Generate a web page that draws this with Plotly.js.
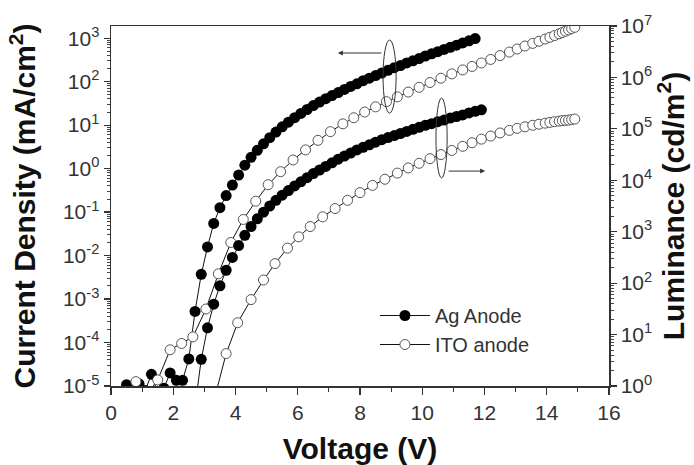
<!DOCTYPE html>
<html>
<head>
<meta charset="utf-8">
<script src="https://cdn.plot.ly/plotly-3.0.1.min.js"></script>
<style>html,body{margin:0;padding:0;background:#fff;}#chart{width:694px;height:465px;}</style>
</head>
<body>
<div id="chart"></div>
<script>
// ---- data ----
// Ag anode: current density (mA/cm^2) vs voltage (V)
const agJV = [0.1,0.3,0.5,0.7,0.9,1.1,1.3,1.5,1.7,1.9,2.1,2.3,2.5,2.7,2.9,3.1,3.3,3.5,3.7,3.9,4.1,4.3,4.5,4.7,4.9,5.1,5.3,5.5,5.7,5.9,6.1,6.3,6.5,6.7,6.9,7.1,7.3,7.5,7.7,7.9,8.1,8.3,8.5,8.7,8.9,9.1,9.3,9.5,9.7,9.9,10.1,10.3,10.5,10.7,10.9,11.1,11.3,11.5,11.7];
const agJ = [5.0e-6,6.3e-6,1.07e-5,7.9e-6,1.12e-5,7.9e-6,1.86e-5,7.1e-6,8.9e-6,2.0e-5,1.35e-5,1.35e-5,4.2e-5,5.2e-4,3.7e-3,1.58e-2,5.5e-2,0.126,0.24,0.417,0.71,1.2,1.82,2.63,3.72,5.13,6.92,9.12,11.7,14.8,18.6,22.9,28.2,33.9,40.7,47.9,56.2,66.1,77.6,89.1,105,120,138,158,182,209,234,269,302,339,389,437,490,550,617,692,776,871,977];
// Ag anode: luminance (cd/m^2) vs voltage (V)
const agLV = [2.7,2.9,3.1,3.3,3.5,3.7,3.9,4.1,4.3,4.5,4.7,4.9,5.1,5.3,5.5,5.7,5.9,6.1,6.3,6.5,6.7,6.9,7.1,7.3,7.5,7.7,7.9,8.1,8.3,8.5,8.7,8.9,9.1,9.3,9.5,9.7,9.9,10.1,10.3,10.5,10.7,10.9,11.1,11.3,11.5,11.7,11.9];
const agL = [0.4,3.3,13.5,38.9,89,178,316,537,851,1259,1778,2399,3162,4074,5129,6310,7762,9333,11220,13490,15850,18620,21880,25700,29510,33880,38900,43650,48980,54950,61660,67610,74130,81280,89130,97720,107200,117500,125900,138000,147900,162200,173800,186200,204200,218800,234400];
// ITO anode: current density (mA/cm^2) vs voltage (V)
const itoJV = [0.4,0.8,1.15,1.5,1.9,2.27,2.63,3.05,3.45,3.85,4.25,4.65,5.05,5.45,5.85,6.25,6.65,7.05,7.45,7.8,8.15,8.5,8.85,9.2,9.55,9.9,10.25,10.6,10.95,11.3,11.6,11.9,12.2,12.5,12.8,13.05,13.3,13.55,13.75,13.95,14.1,14.25,14.4,14.5,14.6,14.7,14.8,14.9];
const itoJ = [5.0e-6,1.26e-5,6.3e-6,1.38e-5,6.8e-5,9.5e-5,1.35e-4,5.9e-4,3.8e-3,0.02,0.0676,0.178,0.427,0.851,1.58,2.69,4.47,7.08,10.7,14.8,20.0,26.3,34.7,44.7,57.5,74.1,95.5,120,151,186,224,269,324,398,479,562,661,759,851,955,1047,1148,1259,1349,1445,1549,1660,1778];
// ITO anode: luminance (cd/m^2) vs voltage (V)
const itoLV = [3.3,3.7,4.07,4.5,4.9,5.27,5.67,6.03,6.4,6.8,7.2,7.6,8.0,8.4,8.8,9.2,9.55,9.9,10.25,10.6,10.95,11.3,11.6,11.9,12.2,12.5,12.8,13.05,13.3,13.55,13.75,13.95,14.1,14.25,14.4,14.5,14.6,14.7,14.8,14.9];
const itoL = [0.5,4.27,17.0,47.9,115,240,479,794,1259,1950,2818,4074,5754,7943,10470,13800,17380,21380,26300,31620,38020,45710,53700,63100,72440,83180,93330,102300,109600,117500,123000,128800,133400,138000,141300,144500,146200,147900,151400,154900];

// ---- tick labels ----
const xTickVals = [0,2,4,6,8,10,12,14,16];
const leftTickVals = [1e-5,1e-4,1e-3,1e-2,1e-1,1,10,100,1000];
const leftTickText = ['10<sup>-5</sup>','10<sup>-4</sup>','10<sup>-3</sup>','10<sup>-2</sup>','10<sup>-1</sup>','10<sup>0</sup>','10<sup>1</sup>','10<sup>2</sup>','10<sup>3</sup>'];
const rightTickVals = [1,10,100,1000,1e4,1e5,1e6,1e7];
const rightTickText = ['10<sup>0</sup>','10<sup>1</sup>','10<sup>2</sup>','10<sup>3</sup>','10<sup>4</sup>','10<sup>5</sup>','10<sup>6</sup>','10<sup>7</sup>'];
const seriesNames = ['Ag Anode','ITO anode'];

const FONT = 'Liberation Sans, Arial, sans-serif';
const filled = {symbol:'circle', size:11, color:'#000', line:{width:0}};
const hollow = {symbol:'circle', size:10, color:'#fff', line:{width:1, color:'#555'}};
const lineStyle = {color:'#111', width:1};

const traces = [
  {x: agJV, y: agJ, yaxis:'y', mode:'lines+markers', name: seriesNames[0], marker: filled, line: lineStyle, showlegend:true},
  {x: itoJV, y: itoJ, yaxis:'y', mode:'lines+markers', name: seriesNames[1], marker: hollow, line: lineStyle, showlegend:true},
  {x: agLV, y: agL, yaxis:'y2', mode:'lines+markers', name: seriesNames[0], marker: filled, line: lineStyle, showlegend:false},
  {x: itoLV, y: itoL, yaxis:'y2', mode:'lines+markers', name: seriesNames[1], marker: hollow, line: lineStyle, showlegend:false}
];

const axisLine = {showline:true, linecolor:'#333', linewidth:1.5, showgrid:false, zeroline:false};
const tickFont = {family: FONT, size: 21, color:'#333'};
const titleFont = {family: FONT, size: 30, color:'#111', weight:'bold'};

const layout = {
  width: 694, height: 465,
  margin: {l:111, r:85, t:26, b:79, pad:0},
  paper_bgcolor:'#fff', plot_bgcolor:'#fff',
  font: {family: FONT, color:'#222'},
  xaxis: Object.assign({}, axisLine, {
    range:[0,16], tickmode:'array', tickvals: xTickVals,
    ticks:'outside', ticklen:7, tickwidth:1.2, tickcolor:'#333', mirror:true,
    minor:{ticks:'outside', ticklen:4, tickwidth:1, tickcolor:'#333', dtick:1, tick0:0, showgrid:false},
    tickfont: tickFont,
    title:{text:'Voltage (V)', font: titleFont, standoff: 20}
  }),
  xaxis2: {
    overlaying:'x', side:'top', anchor:'y', range:[0,16], showgrid:false, zeroline:false, showline:false,
    showticklabels:false, tickmode:'linear', tick0:0, dtick:1, ticks:'inside', ticklen:5, tickwidth:1, tickcolor:'#333'
  },
  yaxis: Object.assign({}, axisLine, {
    type:'log', range:[-5, 3.28], tickmode:'array', tickvals: leftTickVals, ticktext: leftTickText,
    ticks:'outside', ticklen:6, tickwidth:1.2, tickcolor:'#333',
    minor:{ticks:'outside', ticklen:3, tickwidth:1, tickcolor:'#444', dtick:'D1', showgrid:false},
    tickfont: tickFont,
    title:{text:'Current Density (mA/cm<sup>2</sup>)', font: titleFont, standoff: 18}
  }),
  yaxis2: Object.assign({}, axisLine, {
    type:'log', range:[0, 7], overlaying:'y', side:'right', anchor:'x',
    tickmode:'array', tickvals: rightTickVals, ticktext: rightTickText,
    ticks:'outside', ticklen:6, tickwidth:1.2, tickcolor:'#333',
    minor:{ticks:'outside', ticklen:3, tickwidth:1, tickcolor:'#444', dtick:'D1', showgrid:false},
    tickfont: tickFont,
    title:{text:'Luminance (cd/m<sup>2</sup>)', font: titleFont, standoff: 10}
  }),
  legend: {x:0.530, y:0.25, xanchor:'left', yanchor:'top', bgcolor:'rgba(0,0,0,0)', itemwidth:50, font:{family:FONT, size:20, color:'#333'}, tracegroupgap:0},
  shapes: [
    {type:'circle', xref:'x', yref:'paper', x0:8.74, x1:9.16, y0:0.758, y1:0.961, line:{color:'#333', width:1}},
    {type:'circle', xref:'x', yref:'paper', x0:10.44, x1:10.80, y0:0.578, y1:0.80, line:{color:'#333', width:1}}
  ],
  annotations: [
    {x:7.29, y:0.925, xref:'x', yref:'paper', ax:45, ay:0, axref:'pixel', ayref:'pixel', text:'', showarrow:true, arrowhead:2, arrowsize:1, arrowwidth:1, arrowcolor:'#333', standoff:0},
    {x:12.02, y:0.597, xref:'x', yref:'paper', ax:-38, ay:0, axref:'pixel', ayref:'pixel', text:'', showarrow:true, arrowhead:2, arrowsize:1, arrowwidth:1, arrowcolor:'#333', standoff:0}
  ],
  showlegend: true
};

Plotly.newPlot('chart', traces, layout, {staticPlot:true, displayModeBar:false});
</script>
</body>
</html>
